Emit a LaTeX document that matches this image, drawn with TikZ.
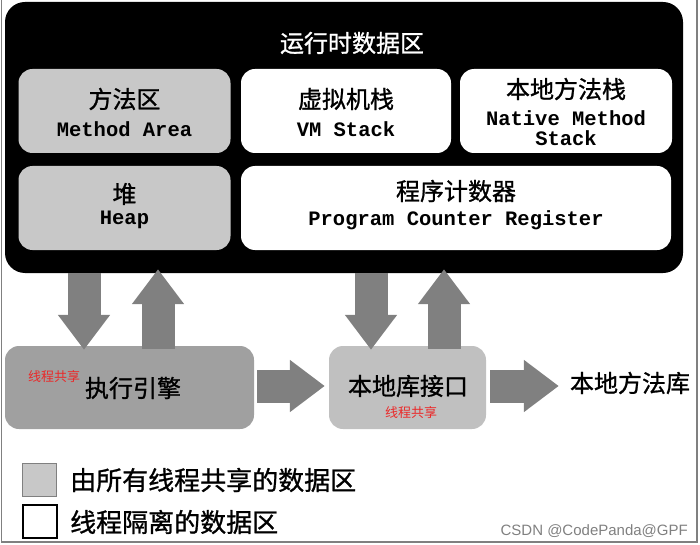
\documentclass[tikz,border=0pt]{standalone}
\usepackage{fontspec}
\setmainfont{Noto Sans CJK SC}
\newfontfamily\cjk[FakeBold=1]{Noto Sans CJK SC}
\newfontfamily\cjkthin{Noto Sans CJK SC}
\newfontfamily\monof{Liberation Mono}
\newfontfamily\wmfont{Liberation Sans}
\usetikzlibrary{arrows.meta}
\definecolor{sharedgray}{RGB}{200,200,200}
\definecolor{enginegray}{RGB}{160,160,160}
\definecolor{libgray}{RGB}{192,192,192}
\definecolor{arrowgray}{RGB}{128,128,128}
\definecolor{sharedred}{RGB}{235,40,40}
\tikzset{
  areabox/.style={rounded corners=14pt, inner sep=0pt, align=center},
  sharedbox/.style={areabox, fill=sharedgray},
  privbox/.style={areabox, fill=white},
  eng/.style={font=\monof\bfseries\fontsize{20.5}{23}\selectfont},
  fat/.style={draw=arrowgray, line width=33pt, -{Triangle[length=35pt,width=50pt]}},
  redlbl/.style={text=sharedred, font=\cjkthin\fontsize{13}{14}\selectfont, inner sep=0pt},
  bigtxt/.style={font=\cjk\fontsize{24}{26}\selectfont, inner sep=0pt},
  legtxt/.style={font=\cjk\fontsize{26}{28}\selectfont, inner sep=0pt, anchor=west},
}
\begin{document}
\begin{tikzpicture}[x=1pt, y=-1pt]
\useasboundingbox (0,0) rectangle (700,545);
\draw[gray, line width=1.2pt] (1.5,-2) -- (1.5,542) -- (697,542) -- (697,-2);
% runtime data area
\node[fill=black, rounded corners=20pt, minimum width=678pt, minimum height=271pt, inner sep=0pt] (rt) at (344,137.5) {};
\node[text=white, bigtxt] (title) at (352,43) {运行时数据区};
\node[sharedbox, minimum width=212pt, minimum height=84pt] (ma) at (124.5,111) {};
\node[bigtxt] (maz) at (124.5,99) {方法区};
\node[eng] (mae) at (124.5,129) {Method Area};
\node[privbox, minimum width=210pt, minimum height=84pt] (vm) at (346,111) {};
\node[bigtxt] (vmz) at (346,99) {虚拟机栈};
\node[eng] (vme) at (346,129) {VM Stack};
\node[privbox, minimum width=212pt, minimum height=84pt] (nm) at (566,111) {};
\node[bigtxt] (nmz) at (566,89) {本地方法栈};
\node[eng, align=center] (nme) at (566,128) {Native Method\\[-3pt]Stack};
\node[sharedbox, minimum width=212pt, minimum height=84pt] (hp) at (124.5,208) {};
\node[bigtxt] (hpz) at (124.5,194) {堆};
\node[eng] (hpe) at (124.5,220) {Heap};
\node[privbox, minimum width=430pt, minimum height=84pt] (pc) at (456,208) {};
\node[bigtxt] (pcz) at (456,191) {程序计数器};
\node[eng] (pce) at (456,220) {Program Counter Register};
% execution engine and native interface
\node[areabox, fill=enginegray, minimum width=249pt, minimum height=83pt] (exe) at (129.5,387.5) {};
\node[bigtxt] (exet) at (133,388) {执行引擎};
\node[redlbl] (exer) at (54,377) {线程共享};
\node[areabox, fill=libgray, minimum width=157pt, minimum height=83pt] (nif) at (407.5,387.5) {};
\node[bigtxt] (nift) at (408,386) {本地库接口};
\node[redlbl] (nifr) at (411,413) {线程共享};
\node[bigtxt] (nlib) at (630,383) {本地方法库};
% arrows
\coordinate (a1) at (84,0);
\coordinate (a2) at (158,0);
\coordinate (a3) at (371,0);
\coordinate (a4) at (444,0);
\coordinate (hr) at (0,386);
\draw[fat] (a1 |- rt.south) -- ([yshift=-4pt]a1 |- exe.north);
\draw[fat] ([yshift=-3pt]a2 |- exe.north) -- ([yshift=4pt]a2 |- rt.south);
\draw[fat] (a3 |- rt.south) -- ([yshift=-4pt]a3 |- nif.north);
\draw[fat] ([yshift=-3pt]a4 |- nif.north) -- ([yshift=4pt]a4 |- rt.south);
\draw[fat] ([xshift=3pt]exe.east |- hr) -- ([xshift=-4pt]nif.west |- hr);
\draw[fat] ([xshift=4pt]nif.east |- hr) -- ([xshift=-11pt]nlib.west |- hr);
% legend
\node[draw=gray, line width=1.5pt, fill=sharedgray, minimum width=34pt, minimum height=33pt, inner sep=0pt] (lg1) at (39.5,480) {};
\node[legtxt] (lg1t) at (70,480) {由所有线程共享的数据区};
\node[draw=black, line width=2pt, fill=white, minimum width=34pt, minimum height=33pt, inner sep=0pt] (lg2) at (39.5,521.5) {};
\node[legtxt] (lg2t) at (70,522) {线程隔离的数据区};
\node[text=gray, font=\wmfont\fontsize{15}{17}\selectfont, inner sep=0pt, anchor=east] (wm) at (688,531) {CSDN @CodePanda@GPF};
\end{tikzpicture}
\end{document}
